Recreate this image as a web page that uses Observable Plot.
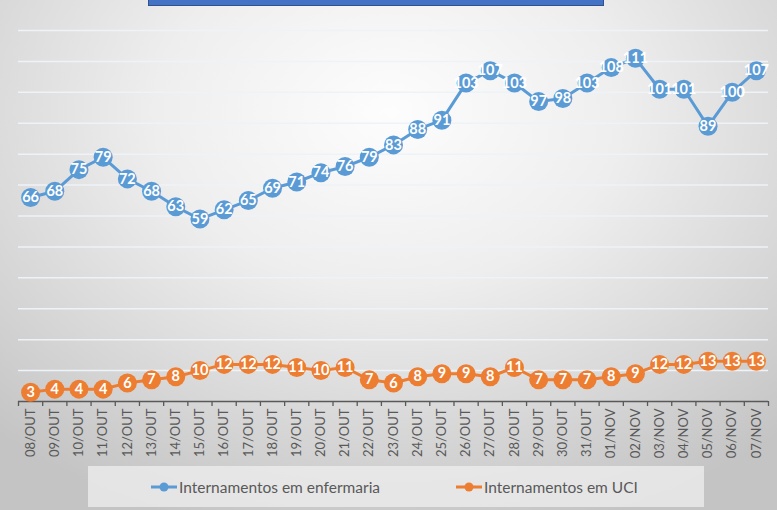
<!DOCTYPE html>
<html><head><meta charset="utf-8">
<script src="https://cdn.jsdelivr.net/npm/d3@7"></script>
<script src="https://cdn.jsdelivr.net/npm/@observablehq/plot@0.6"></script>
<style>
body{margin:0;}
#wrap{position:relative;width:777px;height:510px;overflow:hidden;
 background:radial-gradient(ellipse 75% 85% at 50% 22%, #fdfdfd 0%, #eeeeee 40%, #d6d6d6 75%, #c4c4c4 100%);
 font-family:Lato,"Open Sans",sans-serif;}
#title{position:absolute;left:148px;top:-20px;width:456px;height:26px;background:#4472C4;border:1px solid #2F528F;box-sizing:border-box;}
#chart{position:absolute;left:0;top:0;}
#legend{position:absolute;left:88px;top:466px;width:616px;height:41px;background:rgba(236,236,236,0.8);}
.item{position:absolute;top:0;height:41px;display:flex;align-items:center;color:#595959;font-size:15.5px;}
.item svg{margin-right:1px;}
</style></head>
<body>
<div id="wrap">
  <div id="title"></div>
  <div id="chart"></div>
  <div id="legend"></div>
</div>
<script>
const dates = ["08/OUT","09/OUT","10/OUT","11/OUT","12/OUT","13/OUT","14/OUT","15/OUT","16/OUT","17/OUT","18/OUT","19/OUT","20/OUT","21/OUT","22/OUT","23/OUT","24/OUT","25/OUT","26/OUT","27/OUT","28/OUT","29/OUT","30/OUT","31/OUT","01/NOV","02/NOV","03/NOV","04/NOV","05/NOV","06/NOV","07/NOV"];
const enfermaria = [66,68,75,79,72,68,63,59,62,65,69,71,74,76,79,83,88,91,103,107,103,97,98,103,108,111,101,101,89,100,107];
const uci = [3,4,4,4,6,7,8,10,12,12,12,11,10,11,7,6,8,9,9,8,11,7,7,7,8,9,12,12,13,13,13];
const seriesNames = ["Internamentos em enfermaria","Internamentos em UCI"];
const colors = ["#5B9BD5","#ED7D31"];
const gridValues = [10,20,30,40,50,60,70,80,90,100,110,120];

const rows = [];
dates.forEach((d,i)=>{
  rows.push({i, date:d, v:enfermaria[i], s:seriesNames[0]});
  rows.push({i, date:d, v:uci[i], s:seriesNames[1]});
});
const idx = dates.map((d,i)=>i);
const bounds = d3.range(dates.length+1).map(k=>k-0.5);

const chart = Plot.plot({
  width:777, height:466,
  marginLeft:18, marginRight:9, marginTop:30, marginBottom:65,
  style:{background:"transparent", fontFamily:"Lato, sans-serif"},
  x:{type:"linear", domain:[-0.5, dates.length-0.5], axis:null, label:null},
  y:{domain:[0,120], axis:null, label:null},
  color:{domain:seriesNames, range:colors},
  marks:[
    Plot.ruleY(gridValues, {stroke:"#eef3f8", strokeWidth:1.5}),
    Plot.axisX({ticks:bounds, tickFormat:()=>"", tickSize:5, stroke:"#595959", strokeWidth:1.3, label:null}),
    Plot.ruleY([0], {stroke:"#595959", strokeWidth:1.5}),
    Plot.text(idx, {x:d=>d, y:0, text:d=>dates[d], rotate:-90, textAnchor:"end", lineAnchor:"middle", dy:7, fill:"#595959", fontSize:13}),
    Plot.line(rows, {x:"i", y:"v", z:"s", stroke:"s", strokeWidth:3}),
    Plot.dot(rows, {x:"i", y:"v", fill:"s", r:9.5, stroke:"none"}),
    Plot.text(rows, {x:"i", y:"v", text:d=>String(d.v), fill:"white", fontWeight:"bold", fontSize:14.5, stroke:"none"})
  ]
});
document.getElementById("chart").appendChild(chart);

const leg = document.getElementById("legend");
const pos = [62, 367];
seriesNames.forEach((n,k)=>{
  const it = document.createElement("div");
  it.className="item";
  it.style.left = pos[k]+"px";
  it.innerHTML = `<svg width="28" height="12"><line x1="1" y1="6" x2="27" y2="6" stroke="${colors[k]}" stroke-width="3"/><circle cx="14" cy="6" r="4.5" fill="${colors[k]}"/></svg><span>${n}</span>`;
  leg.appendChild(it);
});
</script>
</body></html>
